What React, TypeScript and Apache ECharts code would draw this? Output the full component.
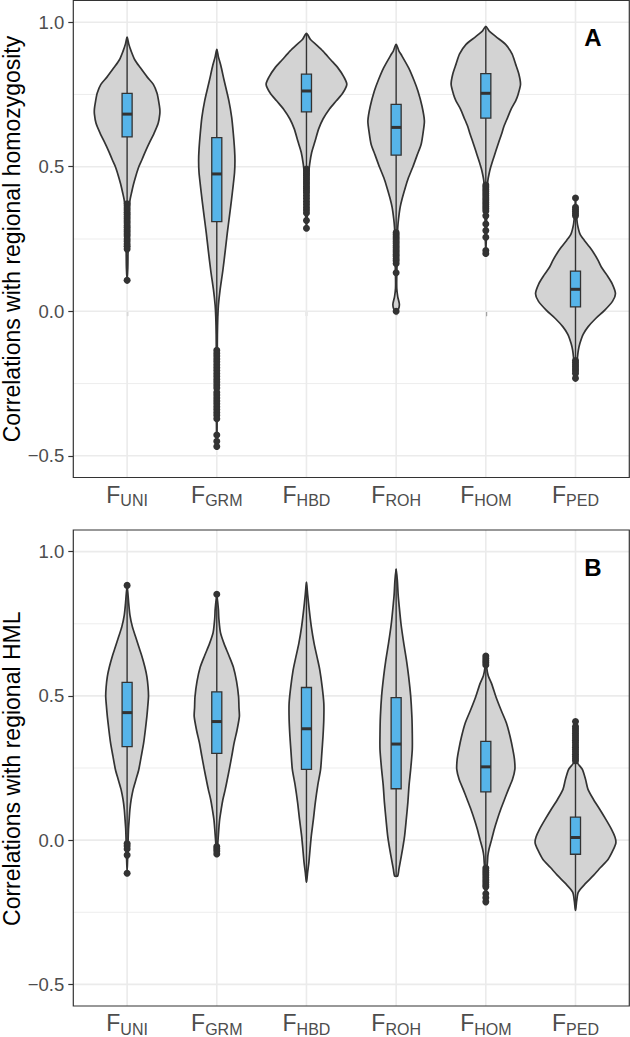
import React, { useEffect, useRef } from 'react';
import * as echarts from 'echarts';

// ---------- data ----------
const categories = ['UNI', 'GRM', 'HBD', 'ROH', 'HOM', 'PED'];
const categoryPositions = [1, 2, 3, 4, 5, 6];
const xLimits = [0.4, 6.6];
const yLimits = [-0.575, 1.075];
const yTickValues = [-0.5, 0, 0.5, 1.0];
const yMinorValues = [-0.25, 0.25, 0.75];
const panelLetters = ['A', 'B'];
const yTitles = ['Correlations with regional homozygosity', 'Correlations with regional HML'];

// [lower whisker, Q1, median, Q3, upper whisker]
const boxStatsHomozygosity = [
  [0.375, 0.603, 0.682, 0.754, 0.948],
  [-0.128, 0.31, 0.475, 0.601, 0.906],
  [0.497, 0.69, 0.762, 0.82, 0.961],
  [0.278, 0.54, 0.636, 0.716, 0.923],
  [0.44, 0.668, 0.754, 0.822, 0.986],
  [-0.165, 0.015, 0.076, 0.139, 0.325],
];
const boxStatsHML = [
  [-0.005, 0.324, 0.442, 0.547, 0.87],
  [-0.015, 0.301, 0.411, 0.514, 0.83],
  [-0.146, 0.245, 0.386, 0.529, 0.894],
  [-0.125, 0.178, 0.333, 0.494, 0.94],
  [-0.09, 0.167, 0.254, 0.342, 0.598],
  [-0.244, -0.049, 0.009, 0.08, 0.27],
];

const outliersHomozygosity = [
  [0.372, 0.365, 0.357, 0.35, 0.342, 0.335, 0.327, 0.32, 0.312, 0.305, 0.297, 0.29, 0.282, 0.275, 0.267, 0.26, 0.25, 0.242, 0.233, 0.225, 0.215, 0.107],
  [-0.135, -0.145, -0.155, -0.165, -0.175, -0.185, -0.195, -0.205, -0.215, -0.225, -0.235, -0.245, -0.255, -0.265, -0.28, -0.29, -0.3, -0.31, -0.32, -0.33, -0.34, -0.35, -0.36, -0.372, -0.428, -0.45, -0.468],
  [0.492, 0.485, 0.477, 0.47, 0.462, 0.455, 0.447, 0.44, 0.432, 0.425, 0.417, 0.41, 0.4, 0.39, 0.38, 0.37, 0.36, 0.35, 0.34, 0.314, 0.287],
  [0.272, 0.265, 0.257, 0.25, 0.242, 0.235, 0.227, 0.22, 0.212, 0.205, 0.197, 0.19, 0.182, 0.175, 0.165, 0.133, 0.0],
  [0.437, 0.43, 0.422, 0.415, 0.407, 0.4, 0.392, 0.385, 0.377, 0.37, 0.362, 0.355, 0.347, 0.33, 0.302, 0.279, 0.256, 0.21, 0.2],
  [0.392, 0.36, 0.352, 0.345, 0.337, 0.33, -0.17, -0.177, -0.185, -0.192, -0.2, -0.207, -0.215, -0.232],
];
const outliersHML = [
  [0.883, -0.012, -0.02, -0.031, -0.052, -0.115],
  [0.852, -0.022, -0.03, -0.038, -0.048],
  [],
  [],
  [0.638, 0.63, 0.622, 0.615, 0.607, -0.097, -0.105, -0.113, -0.121, -0.13, -0.138, -0.146, -0.155, -0.162, -0.186, -0.2, -0.214],
  [0.411, 0.394, 0.386, 0.378, 0.37, 0.362, 0.354, 0.346, 0.338, 0.33, 0.322, 0.314, 0.306, 0.298, 0.29, 0.282, 0.275],
];

// violin outlines: [value, density as % of the widest violin]
const violinHomozygosity = [
  [[0.948, 0], [0.925, 4], [0.9, 10], [0.87, 19], [0.842, 33], [0.81, 50], [0.785, 65], [0.755, 74], [0.728, 78], [0.7, 81], [0.682, 81], [0.65, 77], [0.613, 66], [0.585, 56], [0.555, 46], [0.525, 37], [0.5, 29], [0.47, 22], [0.44, 16], [0.41, 11], [0.383, 7], [0.35, 4.5], [0.3, 3.5], [0.25, 2.7], [0.2, 2.2], [0.15, 1.7], [0.107, 0]],
  [[0.906, 0], [0.88, 4], [0.85, 10], [0.8, 18], [0.728, 30], [0.67, 37], [0.614, 41], [0.56, 44], [0.52, 45], [0.48, 44], [0.44, 41], [0.38, 36], [0.325, 31], [0.27, 26], [0.21, 21], [0.141, 15], [0.072, 8], [0.02, 4], [-0.02, 2.5], [-0.08, 1.5], [-0.15, 1.2], [-0.25, 1], [-0.35, 0.8], [-0.43, 0.6], [-0.468, 0]],
  [[0.961, 0], [0.94, 10], [0.92, 26], [0.9, 41], [0.87, 60], [0.842, 78], [0.81, 93], [0.785, 100], [0.755, 90], [0.728, 74], [0.7, 57], [0.665, 41], [0.63, 30], [0.587, 21], [0.55, 13], [0.51, 8], [0.47, 5], [0.42, 3.5], [0.38, 2.5], [0.33, 2], [0.287, 0]],
  [[0.923, 0], [0.9, 7], [0.889, 12], [0.842, 31], [0.8, 44], [0.762, 54], [0.71, 64], [0.659, 70], [0.62, 67], [0.578, 62], [0.54, 52], [0.498, 41], [0.46, 30], [0.429, 23], [0.39, 15], [0.36, 10], [0.32, 6], [0.29, 4], [0.25, 3], [0.2, 2.5], [0.15, 2], [0.12, 1.5], [0.08, 1.5], [0.05, 4], [0.025, 8], [0.008, 6], [0, 0]],
  [[0.986, 0], [0.97, 8], [0.95, 25], [0.923, 49], [0.89, 65], [0.854, 74], [0.82, 82], [0.785, 86], [0.75, 80], [0.728, 74], [0.7, 63], [0.67, 54], [0.64, 45], [0.613, 39], [0.585, 32], [0.555, 25], [0.525, 18], [0.498, 12], [0.475, 8], [0.452, 5], [0.42, 3.5], [0.38, 2.5], [0.33, 2], [0.28, 1.5], [0.24, 1], [0.205, 0]],
  [[0.392, 0], [0.35, 1.5], [0.33, 2.5], [0.3, 5], [0.268, 11], [0.245, 22], [0.222, 35], [0.2, 46], [0.176, 56], [0.153, 64], [0.125, 78], [0.095, 91], [0.061, 99], [0.035, 92], [0.003, 72], [-0.025, 50], [-0.054, 31], [-0.08, 19], [-0.111, 11], [-0.135, 7], [-0.158, 5], [-0.19, 3], [-0.232, 0]],
];
const violinHML = [
  [[0.88, 0], [0.855, 2], [0.82, 4], [0.78, 7], [0.74, 13], [0.705, 21], [0.67, 29], [0.636, 37], [0.6, 44], [0.567, 49], [0.53, 52], [0.498, 53], [0.46, 51], [0.429, 49], [0.38, 45], [0.337, 41], [0.29, 35], [0.245, 29], [0.21, 22], [0.176, 15], [0.14, 10], [0.107, 7], [0.07, 5], [0.04, 3.5], [0.0, 2.5], [-0.05, 1.5], [-0.115, 0]],
  [[0.85, 0], [0.8, 4], [0.77, 5], [0.72, 9], [0.681, 18], [0.64, 30], [0.6, 41], [0.55, 49], [0.497, 54], [0.46, 55], [0.429, 56], [0.38, 50], [0.337, 43], [0.29, 37], [0.245, 31], [0.21, 26], [0.176, 21], [0.14, 15], [0.107, 11], [0.07, 7], [0.038, 5], [0, 3], [-0.048, 0]],
  [[0.894, 0], [0.85, 3], [0.797, 7], [0.74, 12], [0.681, 19], [0.63, 27], [0.59, 33], [0.53, 39], [0.474, 43], [0.42, 43], [0.36, 41], [0.3, 38], [0.245, 35], [0.19, 28], [0.131, 22], [0.07, 17], [0.015, 12], [-0.03, 9], [-0.077, 6], [-0.11, 3], [-0.146, 0]],
  [[0.94, 0], [0.9, 3], [0.85, 5], [0.819, 7], [0.75, 12], [0.681, 19], [0.62, 26], [0.567, 31], [0.5, 36], [0.429, 39], [0.37, 40], [0.314, 40], [0.245, 36], [0.19, 32], [0.13, 29], [0.07, 25], [0.015, 21], [-0.03, 16], [-0.077, 10], [-0.1, 7], [-0.124, 4], [-0.126, 0]],
  [[0.64, 0], [0.6, 2], [0.57, 6], [0.54, 15], [0.497, 25], [0.45, 38], [0.406, 51], [0.36, 60], [0.314, 67], [0.28, 71], [0.245, 72], [0.21, 66], [0.176, 56], [0.14, 46], [0.107, 37], [0.07, 28], [0.038, 21], [0, 14], [-0.031, 8], [-0.055, 5], [-0.077, 4], [-0.1, 2.5], [-0.14, 2], [-0.18, 1.5], [-0.214, 0]],
  [[0.41, 0], [0.35, 1.5], [0.3, 2], [0.275, 4], [0.265, 6], [0.245, 17], [0.21, 25], [0.176, 31], [0.14, 45], [0.107, 60], [0.07, 76], [0.038, 89], [0.01, 98], [-0.01, 100], [-0.035, 93], [-0.066, 81], [-0.095, 62], [-0.123, 44], [-0.15, 25], [-0.18, 7], [-0.21, 3], [-0.244, 0]],
];

// ---------- style ----------
const FONT = '"Liberation Sans", Arial, Helvetica, sans-serif';
const DARK = '#333333';
const GRID_COLOR = '#ebebeb';
const VIOLIN_FILL = '#d3d3d3';
const BOX_FILL = '#56B4E9';
const MAX_HALF_WIDTH = 0.45; // in category units
const BOX_HALF_WIDTH = 0.056;

const panels = [
  { top: 0.5, height: 477, violins: violinHomozygosity, stats: boxStatsHomozygosity, outliers: outliersHomozygosity },
  { top: 530, height: 477.5, violins: violinHML, stats: boxStatsHML, outliers: outliersHML },
];
const GRID_LEFT = 73.3;
const GRID_WIDTH = 556;

function fmtTick(v: number) {
  const s = Math.abs(v).toFixed(1);
  return v < 0 ? '\u2212' + s : s;
}

function buildOption() {
  const grid: any[] = [];
  const xAxis: any[] = [];
  const yAxis: any[] = [];
  const series: any[] = [];
  const graphic: any[] = [];

  panels.forEach((p, i) => {
    grid.push({
      left: GRID_LEFT, top: p.top, width: GRID_WIDTH, height: p.height,
      show: true, borderColor: DARK, borderWidth: 1.2, backgroundColor: 'transparent', z: 10,
    });
    xAxis.push({
      type: 'value', gridIndex: i, min: xLimits[0], max: xLimits[1],
      splitLine: { show: false }, axisLine: { show: false },
      axisTick: { show: true, customValues: categoryPositions, length: 5, lineStyle: { color: DARK, width: 1.2 } },
      axisLabel: {
        customValues: categoryPositions,
        margin: 3,
        formatter: (v: number) => `{f|F}{s|${categories[Math.round(v) - 1]}}`,
        rich: {
          f: { fontSize: 23, lineHeight: 28, color: '#4d4d4d', fontFamily: FONT },
          s: { fontSize: 16, lineHeight: 15, color: '#4d4d4d', fontFamily: FONT, verticalAlign: 'bottom' },
        },
      },
    });
    yAxis.push({
      type: 'value', gridIndex: i, min: yLimits[0], max: yLimits[1],
      splitLine: { show: false }, axisLine: { show: false },
      axisTick: { show: true, customValues: yTickValues, length: 5, lineStyle: { color: DARK, width: 1.2 } },
      axisLabel: {
        customValues: yTickValues, margin: 9, formatter: fmtTick,
        fontSize: 18.5, color: '#4d4d4d', fontFamily: FONT,
      },
    });

    // background grid lines
    series.push({
      type: 'custom', xAxisIndex: i, yAxisIndex: i, z: 1, silent: true,
      data: [[1, 0]],
      renderItem: (_params: any, api: any) => {
        const children: any[] = [];
        yMinorValues.forEach((v) => {
          const a = api.coord([xLimits[0], v]);
          const b = api.coord([xLimits[1], v]);
          children.push({ type: 'line', shape: { x1: a[0], y1: a[1], x2: b[0], y2: b[1] }, style: { stroke: GRID_COLOR, lineWidth: 0.9 } });
        });
        yTickValues.forEach((v) => {
          const a = api.coord([xLimits[0], v]);
          const b = api.coord([xLimits[1], v]);
          children.push({ type: 'line', shape: { x1: a[0], y1: a[1], x2: b[0], y2: b[1] }, style: { stroke: GRID_COLOR, lineWidth: 1.6 } });
        });
        categoryPositions.forEach((c) => {
          const a = api.coord([c, yLimits[0]]);
          const b = api.coord([c, yLimits[1]]);
          children.push({ type: 'line', shape: { x1: a[0], y1: a[1], x2: b[0], y2: b[1] }, style: { stroke: GRID_COLOR, lineWidth: 1.6 } });
        });
        return { type: 'group', children };
      },
    });

    // violins
    series.push({
      type: 'custom', xAxisIndex: i, yAxisIndex: i, z: 2, silent: true,
      data: categoryPositions.map((c) => [c, 0]),
      renderItem: (_params: any, api: any) => {
        const c = api.value(0);
        const prof = p.violins[c - 1];
        const pts: number[][] = [];
        prof.forEach(([v, d]) => pts.push(api.coord([c + (d / 100) * MAX_HALF_WIDTH, v])));
        for (let k = prof.length - 1; k >= 0; k--) {
          const [v, d] = prof[k];
          if (d === 0) continue;
          pts.push(api.coord([c - (d / 100) * MAX_HALF_WIDTH, v]));
        }
        return {
          type: 'polygon',
          shape: { points: pts, smooth: 0.25 },
          style: { fill: VIOLIN_FILL, stroke: DARK, lineWidth: 1.7, lineJoin: 'round' },
        };
      },
    });

    // boxplots
    series.push({
      type: 'custom', xAxisIndex: i, yAxisIndex: i, z: 3, silent: true,
      data: categoryPositions.map((c) => [c, 0]),
      renderItem: (_params: any, api: any) => {
        const c = api.value(0);
        const [lo, q1, med, q3, hi] = p.stats[c - 1];
        const wLo = api.coord([c, lo]);
        const wHi = api.coord([c, hi]);
        const tl = api.coord([c - BOX_HALF_WIDTH, q3]);
        const br = api.coord([c + BOX_HALF_WIDTH, q1]);
        const mL = api.coord([c - BOX_HALF_WIDTH, med]);
        const mR = api.coord([c + BOX_HALF_WIDTH, med]);
        return {
          type: 'group',
          children: [
            { type: 'line', shape: { x1: wLo[0], y1: wLo[1], x2: wHi[0], y2: wHi[1] }, style: { stroke: DARK, lineWidth: 1.4 } },
            { type: 'rect', shape: { x: tl[0], y: tl[1], width: br[0] - tl[0], height: br[1] - tl[1] }, style: { fill: BOX_FILL, stroke: DARK, lineWidth: 1.3 } },
            { type: 'line', shape: { x1: mL[0], y1: mL[1], x2: mR[0], y2: mR[1] }, style: { stroke: DARK, lineWidth: 3 } },
          ],
        };
      },
    });

    // outliers
    const pts: number[][] = [];
    p.outliers.forEach((arr, k) => arr.forEach((v) => pts.push([categoryPositions[k], v])));
    series.push({
      type: 'scatter', xAxisIndex: i, yAxisIndex: i, z: 4, silent: true,
      symbol: 'circle', symbolSize: 7,
      itemStyle: { color: DARK, opacity: 1 },
      data: pts,
    });

    const centerY = p.top + p.height / 2;
    graphic.push({
      type: 'text', x: 12, y: centerY, rotation: Math.PI / 2,
      style: { text: yTitles[i], fontSize: 23, lineHeight: 23, fontFamily: FONT, fill: '#000', align: 'center', verticalAlign: 'middle' },
    });
    graphic.push({
      type: 'text', x: 593, y: p.top + 37, z: 20,
      style: { text: panelLetters[i], fontSize: 24, fontWeight: 'bold', fontFamily: FONT, fill: '#000', align: 'center', verticalAlign: 'middle' },
    });
  });

  return { animation: false, backgroundColor: '#ffffff', grid, xAxis, yAxis, series, graphic };
}

export default function App() {
  const ref = useRef<HTMLDivElement>(null);
  useEffect(() => {
    if (!ref.current) return;
    const chart = echarts.init(ref.current, undefined, { renderer: 'svg' });
    chart.setOption(buildOption() as any);
    return () => chart.dispose();
  }, []);
  return <div ref={ref} style={{ position: 'absolute', left: 0, top: 0, width: 630, height: 1037, background: '#fff' }} />;
}
